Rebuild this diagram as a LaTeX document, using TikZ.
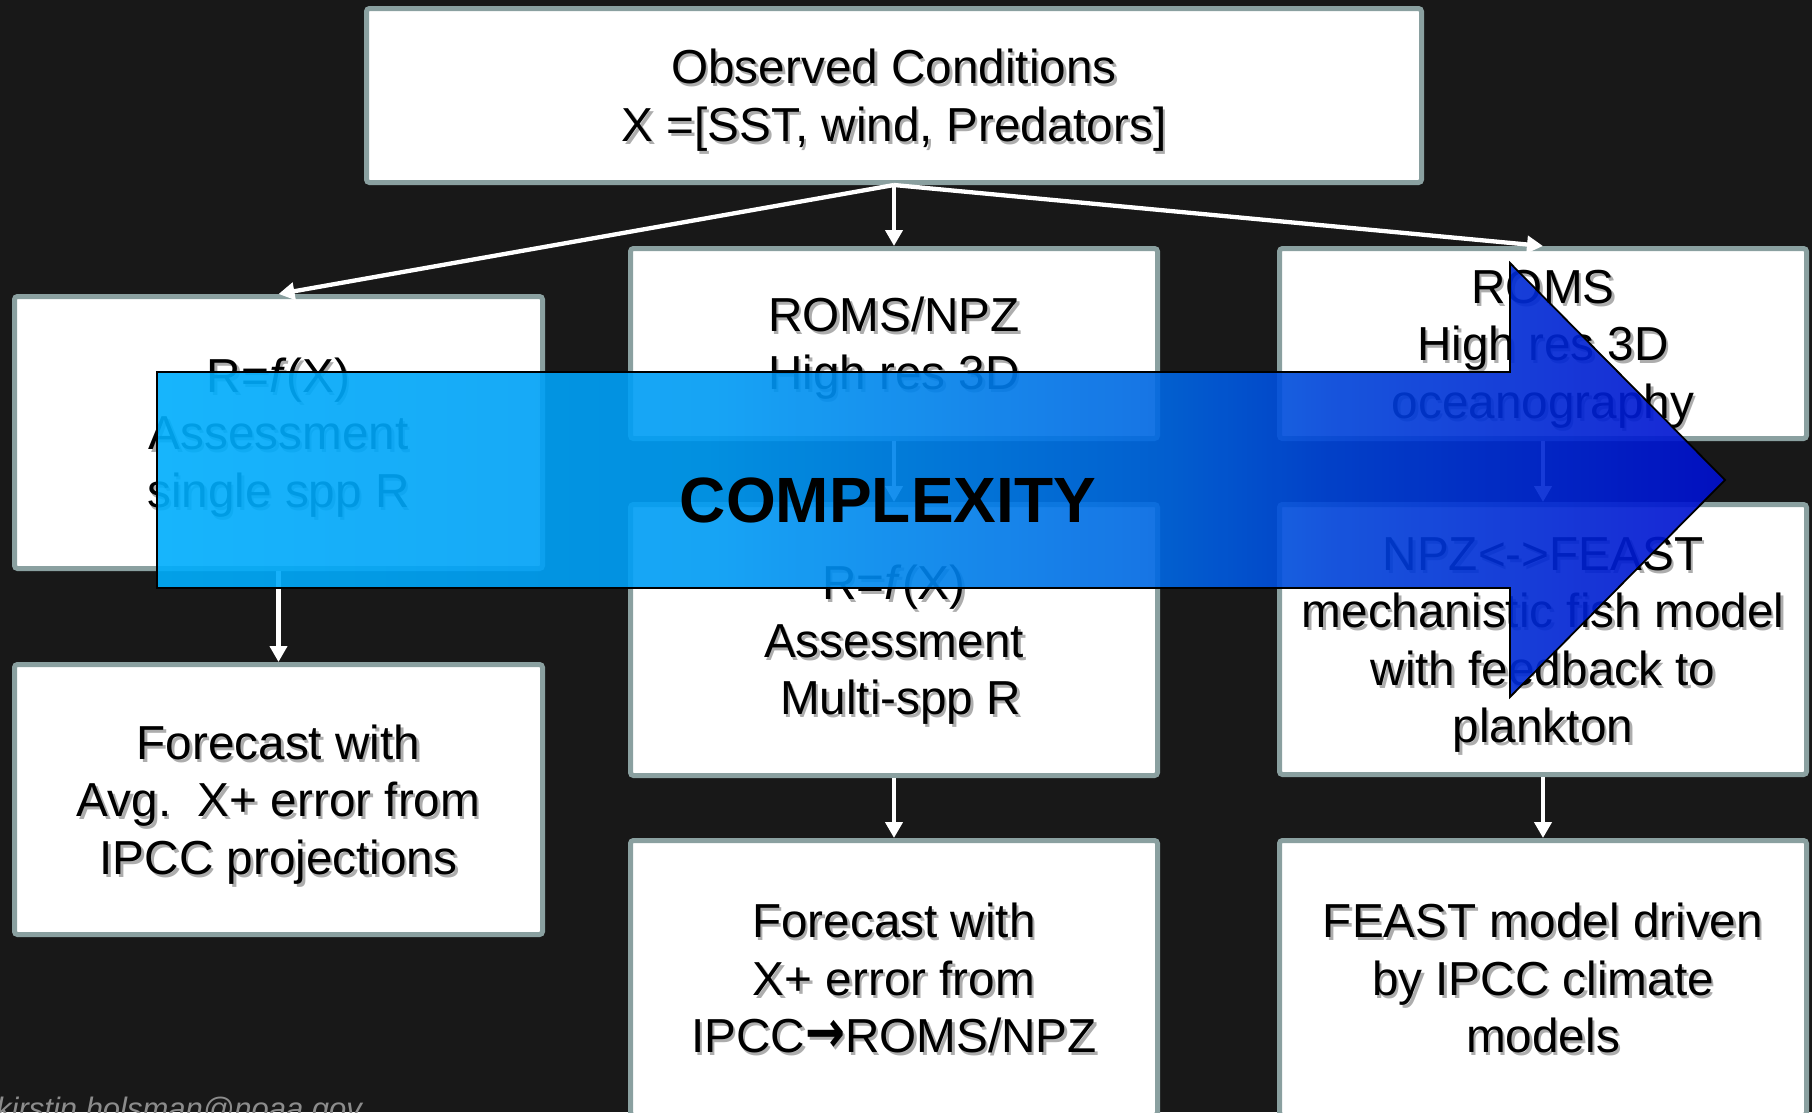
\documentclass[tikz,border=0pt]{standalone}
\usepackage{fontspec}
\usepackage{graphicx}
\setmainfont{Liberation Sans}
\newfontfamily\arrowfont{DejaVu Sans}
\usetikzlibrary{arrows.meta}

\definecolor{bg}{RGB}{24,24,24}
\definecolor{frame}{RGB}{138,160,160}
\definecolor{footgray}{RGB}{140,140,140}
% colours along the COMPLEXITY arrow, left to right
\definecolor{cA}{RGB}{0,174,252}
\definecolor{cB}{RGB}{0,156,244}
\definecolor{cC}{RGB}{0,103,226}
\definecolor{cD}{RGB}{0,68,217}
\definecolor{cE}{RGB}{0,15,208}
\pgfdeclarehorizontalshading{complexityshade}{100bp}{color(0bp)=(cA); color(25bp)=(cA); color(42.5bp)=(cB); color(57bp)=(cC); color(62.5bp)=(cD); color(75bp)=(cE); color(100bp)=(cE)}

% strut that keeps every text line the same height
\newcommand\vs{\rule[-0.242em]{0pt}{1.2em}}
% heavy right arrow used inside the text
\newcommand\toarrow{{\arrowfont\bfseries\scalebox{1}[1.25]{→}}}

\tikzset{
  panel/.style={draw=frame, line width=5pt, fill=white, rounded corners=3pt, inner sep=0pt},
  words/.style={font=\fontsize{47.7}{57.5}\selectfont, align=center, inner sep=0pt, text=black},
  shadowwords/.style={words, text opacity=0.32},
  link/.style={draw=white, line width=4.3pt, -{Triangle[width=17pt,length=16pt]}},
}

% name, centre x, centre y, width, height, text
\newcommand\panelbox[6]{%
  \node[panel, minimum width=#4pt, minimum height=#5pt] (#1) at (#2,#3) {};
  \node[shadowwords] (#1-shadow) at ([shift={(2.5,3)}]#1.center) {#6};
  \node[words] (#1-text) at (#1.center) {#6};
}

\begin{document}
\begin{tikzpicture}[x=1pt,y=-1pt]
\useasboundingbox (0,0) rectangle (1812,1112);
\fill[bg] (0,0) rectangle (1812,1112);

\panelbox{top}{894}{95.5}{1055}{174}{\vs Observed Conditions\\\vs X =[SST, wind, Predators]}
\panelbox{L1}{278.5}{432.5}{528}{272}{\vs R=\textit{f}(X)\\\vs Assessment\\\vs single spp R}
\panelbox{L2}{278.5}{799.5}{528}{270}{\vs Forecast with\\\vs Avg.~~X+ error from\\\vs IPCC projections}
\panelbox{M1}{894}{343.5}{527}{190}{\vs ROMS/NPZ\\\vs High res 3D}
\panelbox{M2}{894}{640}{527}{271}{\vs R=\textit{f}(X)\\\vs Assessment\\\vs\hspace*{0.278em}Multi-spp R}
\panelbox{M3}{894}{978}{527}{275}{\vs Forecast with\\\vs X+ error from\\\vs IPCC\toarrow ROMS/NPZ}
\panelbox{R1}{1543}{343.5}{527}{190}{\vs ROMS\\\vs High res 3D\\\vs oceanography}
\panelbox{R2}{1543}{639.5}{527}{270}{\vs NPZ<->FEAST\\\vs mechanistic fish model\\\vs with feedback to\\\vs plankton}
\panelbox{R3}{1543}{978}{527}{275}{\vs FEAST model driven\\\vs by IPCC climate\\\vs models}

% connectors
\draw[link] (top.south) -- (M1.north);
\draw[link] (top.south) -- (L1.north);
\draw[link] (top.south) -- (R1.north);
\draw[link] (L1.south) -- (L2.north);
\draw[link] (M1.south) -- (M2.north);
\draw[link] (M2.south) -- (M3.north);
\draw[link] (R1.south) -- (R2.north);
\draw[link] (R2.south) -- (R3.north);

% translucent block arrow across the models
\draw[shade, shading=complexityshade, fill opacity=0.91, draw=black, line width=1.8pt, line join=miter]
  (157,372) -- (1510,372) -- (1510,263) -- (1725,480) -- (1510,697) -- (1510,588) -- (157,588) -- cycle;
\node[font=\bfseries\fontsize{64}{70}\selectfont, anchor=base, inner sep=0pt] (cplx) at (888,522) {COMPLEXITY};

\node[font=\itshape\fontsize{31}{36}\selectfont, text=footgray, anchor=base west, inner sep=0pt] (mail) at (-4,1119) {kirstin.holsman@noaa.gov};
\end{tikzpicture}
\end{document}
